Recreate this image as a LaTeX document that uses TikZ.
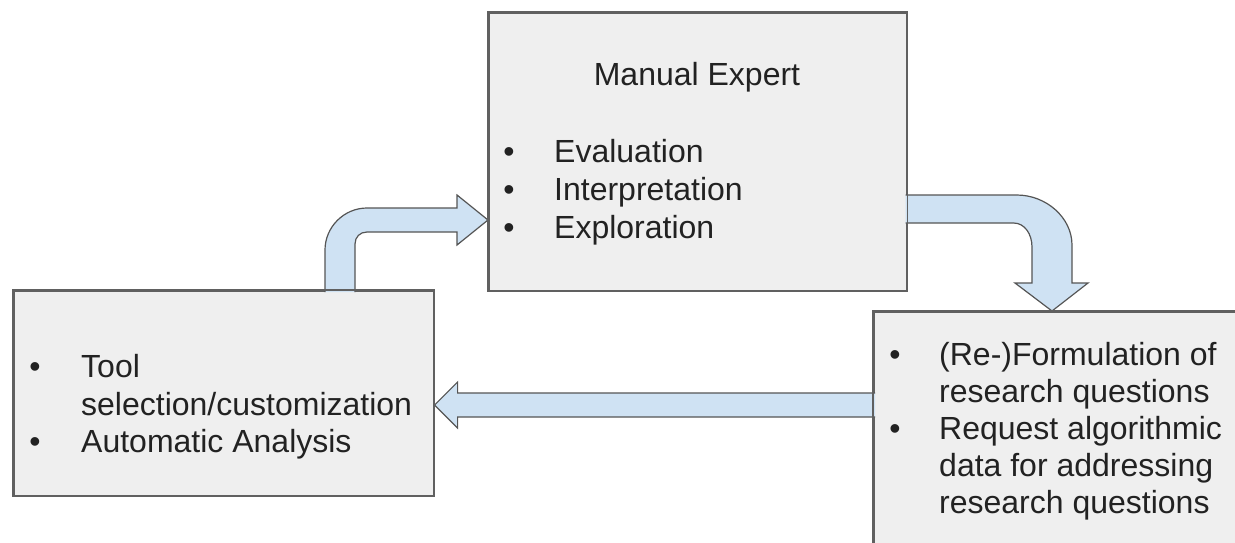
\documentclass[tikz,border=0pt]{standalone}
\usepackage{fontspec}
\setmainfont{Liberation Sans}
\usetikzlibrary{calc}

\definecolor{boxfill}{HTML}{EFEFEF}
\definecolor{boxline}{HTML}{606060}
\definecolor{arrowfill}{HTML}{CFE2F3}
\definecolor{arrowline}{HTML}{555555}
\definecolor{textcol}{HTML}{222222}

\tikzset{
  panel/.style={draw=boxline, fill=boxfill, line width=1.6pt, anchor=north west, inner sep=0pt},
  blockarrow/.style={draw=arrowline, fill=arrowfill, line width=1.2pt, line join=miter},
  line/.style={anchor=base west, inner sep=0pt, text=textcol, font=\fontsize{32}{37}\selectfont},
  dot/.style={anchor=base, inner sep=0pt, text=textcol, font=\fontsize{32}{37}\selectfont}
}

\begin{document}
\begin{tikzpicture}[x=1pt, y=-1pt]
  \useasboundingbox (0,0) rectangle (1235,542);
  \clip (0,0) rectangle (1235,542);

  % the three panels (placed first so arrows can refer to them)
  \path (488,12) node[panel, minimum width=418pt, minimum height=278pt] (top) {};
  \path (13,290) node[panel, minimum width=420pt, minimum height=205pt] (lb) {};
  \path (873,311) node[panel, minimum width=400pt, minimum height=300pt] (rb) {};

  % anchor points of the block arrows
  \coordinate (a1b) at (lb.north -| 340,0);
  \coordinate (a1t) at (top.west |- 0,220);
  \coordinate (a2s) at (top.east |- 0,209);
  \coordinate (a2t) at (rb.north -| 1052,0);
  \coordinate (a3s) at (rb.west |- 0,405);
  \coordinate (a3t) at (lb.east |- 0,405);

  % left panel -> top panel (bent up and right)
  \draw[blockarrow] ($(a1b)+(-15,2)$) -- ($(a1b)+(-15,-40)$)
    .. controls ($(a1b)+(-15,-63)$) and ($(a1b)+(4,-82)$) .. ($(a1b)+(27,-82)$)
    -- ($(a1t)+(-31,-12)$) -- ($(a1t)+(-31,-25)$) -- (a1t)
    -- ($(a1t)+(-31,25)$) -- ($(a1t)+(-31,12)$) -- ($(a1b)+(27,-58)$)
    .. controls ($(a1b)+(20,-58)$) and ($(a1b)+(15,-53)$) .. ($(a1b)+(15,-46)$)
    -- ($(a1b)+(15,2)$);

  % top panel -> right panel (bent right and down)
  \draw[blockarrow] ($(a2s)+(-2,-14)$) -- ($(a2s)+(109,-14)$)
    .. controls ($(a2s)+(139,-14)$) and ($(a2t)+(20,-93)$) .. ($(a2t)+(20,-66)$)
    -- ($(a2t)+(20,-28)$) -- ($(a2t)+(36,-28)$) -- (a2t)
    -- ($(a2t)+(-37,-28)$) -- ($(a2t)+(-20,-28)$) -- ($(a2t)+(-20,-64)$)
    .. controls ($(a2t)+(-20,-77)$) and ($(a2s)+(117,14)$) .. ($(a2s)+(106,14)$)
    -- ($(a2s)+(-2,14)$);

  % right panel -> left panel (straight)
  \draw[blockarrow] ($(a3s)+(2,-12)$) -- ($(a3t)+(23,-12)$) -- ($(a3t)+(23,-23)$)
    -- (a3t) -- ($(a3t)+(23,23)$) -- ($(a3t)+(23,12)$) -- ($(a3s)+(2,12)$);

  % redraw the panel outlines over the arrow ends
  \draw[draw=boxline, line width=1.6pt] (top.north west) rectangle (top.south east);
  \draw[draw=boxline, line width=1.6pt] (lb.north west) rectangle (lb.south east);
  \draw[draw=boxline, line width=1.6pt] (rb.north west) rectangle (rb.south east);

  % top panel text
  \node[dot] (ttl) at (697,85) {Manual Expert};
  \node[dot] (d1) at (509,162) {•};
  \node[dot] (d2) at (509,200) {•};
  \node[dot] (d3) at (509,238) {•};
  \node[line] (t1) at (554,162) {Evaluation};
  \node[line] (t2) at (554,200) {Interpretation};
  \node[line] (t3) at (554,238) {Exploration};

  % left panel text
  \node[dot] (d4) at (35,377) {•};
  \node[dot] (d5) at (35,452) {•};
  \node[line] (l1) at (81,377) {Tool};
  \node[line] (l2) at (81,415) {selection/customization};
  \node[line] (l3) at (81,452) {Automatic Analysis};

  % right panel text
  \node[dot] (d6) at (895,365) {•};
  \node[dot] (d7) at (895,439) {•};
  \node[line] (r1) at (939,365) {(Re-)Formulation of};
  \node[line] (r2) at (939,402) {research questions};
  \node[line] (r3) at (939,439) {Request algorithmic};
  \node[line] (r4) at (939,476) {data for addressing};
  \node[line] (r5) at (939,513) {research questions};
\end{tikzpicture}
\end{document}
